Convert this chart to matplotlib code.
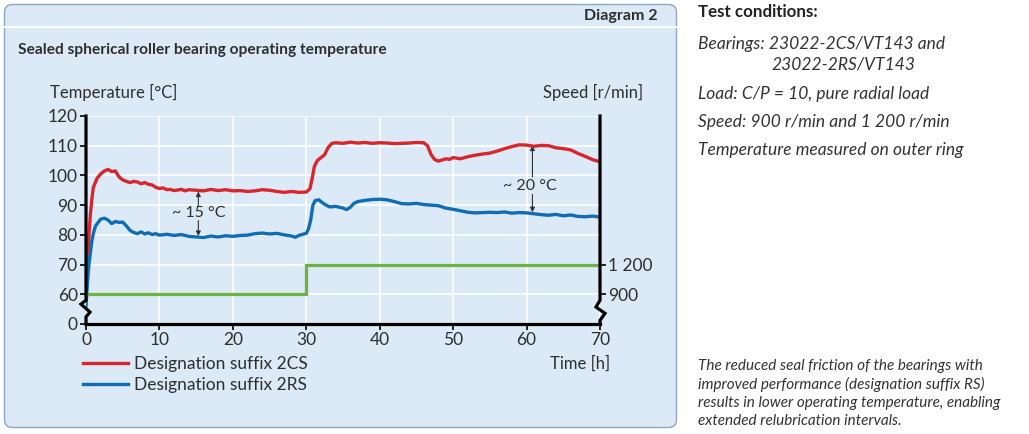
import matplotlib
matplotlib.use("Agg")
import matplotlib.pyplot as plt
import matplotlib.transforms as mtransforms
from matplotlib.patches import FancyBboxPatch
from matplotlib.lines import Line2D

# ---- data ----
time_2cs = [0, 0.2, 0.4, 0.6, 0.8, 1.0, 1.5, 2.0, 2.5, 3.0, 3.5, 4.0, 4.5, 5.0, 5.5,
            6.0, 6.5, 7.0, 7.5, 8.0, 8.5, 9.0, 9.5, 10, 10.5, 11, 11.5, 12, 12.5, 13,
            13.5, 14, 15, 16, 17, 18, 19, 20, 21, 22, 23, 24, 25, 26, 27, 28, 29, 30,
            30.5, 30.8, 31.1, 31.5, 32, 32.5, 33, 33.5, 34, 35, 36, 37, 38, 39, 40, 41,
            42, 43, 44, 45, 46, 46.5, 47, 47.5, 48, 48.5, 49, 49.5, 50, 51, 52, 53, 54,
            55, 56, 57, 58, 59, 60, 61, 62, 63, 64, 65, 66, 67, 68, 69, 70]
temp_2cs = [60, 68, 80, 87, 92, 96, 99, 100.5, 101.5, 102, 101.3, 101.5, 99.5, 98.5, 98,
            97.6, 98, 97.8, 97.2, 97.6, 97, 96.8, 96, 95.6, 95.8, 95.2, 95.3, 94.9, 95.1, 95.3,
            94.8, 95.2, 95.0, 94.8, 95.3, 94.9, 95.2, 94.8, 94.9, 94.6, 94.8, 95.2, 95.0, 94.6, 94.3, 94.6, 94.3, 94.4,
            95.5, 99, 103, 105, 106, 107, 109.5, 110.8, 111, 110.8, 111.2, 110.9, 111.1, 110.8, 111, 110.9,
            110.7, 110.8, 110.9, 111.1, 111, 110, 107, 105.3, 104.8, 105.2, 105.6, 105.4, 106, 105.6, 106.3, 106.8, 107.2,
            107.5, 108.2, 109, 109.7, 110.3, 110.2, 109.8, 110.1, 110, 109.3, 109, 108.6, 107.4, 106.4, 105.3, 104.6]

time_2rs = [0, 0.2, 0.4, 0.6, 0.8, 1.0, 1.3, 1.6, 2.0, 2.5, 3.0, 3.5, 4.0, 4.5, 5.0, 5.5,
            6.0, 6.5, 7, 7.5, 8, 8.5, 9, 9.5, 10, 11, 12, 13, 14, 15, 16, 17, 18, 19, 20,
            21, 22, 23, 24, 25, 26, 27, 28, 28.5, 29, 29.5, 30, 30.3, 30.6, 30.9, 31.2, 31.7,
            32.2, 32.7, 33.2, 34, 35, 35.5, 36, 36.5, 37, 38, 39, 40, 41, 42, 43, 44, 45, 46,
            47, 48, 49, 50, 51, 52, 53, 54, 55, 56, 57, 58, 59, 60, 61, 62, 63, 64, 65, 66,
            67, 68, 69, 70]
temp_2rs = [56, 64, 70, 74, 78, 80.5, 83, 84, 85.3, 85.6, 85, 83.8, 84.5, 84.2, 84.3, 83,
            81.5, 80.8, 80.4, 81, 80.3, 80.7, 80.1, 80.4, 79.9, 80.2, 79.8, 80.1, 79.5, 79.3, 79.1, 79.6, 79.3, 79.7, 79.5,
            79.8, 79.9, 80.4, 80.6, 80.3, 80.5, 80, 79.6, 79.2, 79.8, 80.2, 80.5, 82, 85, 90, 91.5, 91.8,
            90.8, 90, 89.4, 89.6, 89, 88.5, 89.3, 90.6, 91.2, 91.6, 91.9, 92, 91.8, 91.2, 90.5, 90.4, 90.6, 90.2,
            90, 89.8, 89, 88.6, 88.1, 87.6, 87.4, 87.5, 87.6, 87.5, 87.7, 87.3, 87.5, 87.4, 87.1, 86.8, 86.6, 86.9, 86.4, 86.7,
            86.2, 86.1, 86.3, 86]

speed_time = [0, 30, 30, 70]
speed_rpm = [900, 900, 1200, 1200]

temp_ticks = [50, 60, 70, 80, 90, 100, 110, 120]
temp_labels = ["0", "60", "70", "80", "90", "100", "110", "120"]
speed_ticks = [900, 1200]
speed_labels = ["900", "1 200"]
time_ticks = [0, 10, 20, 30, 40, 50, 60, 70]

RED = "#d7262e"
BLUE = "#0e6db5"
GREEN = "#6db33f"
PANEL = "#dbeaf6"
TXT = "#2e2e2e"
CF = ["Lato", "DejaVu Sans"]
RF = ["Lato", "DejaVu Sans"]

W, H = 1029, 434
fig = plt.figure(figsize=(W / 100, H / 100), dpi=100)
fig.patch.set_facecolor("white")
inch = fig.dpi_scale_trans


def px(x, y):
    return x / W, 1 - y / H


# panel
panel = FancyBboxPatch((0.045, 0.065), 6.72, 4.23, boxstyle="round,pad=0,rounding_size=0.08",
                       transform=inch, facecolor=PANEL, edgecolor="#8ea8c3", lw=1.0, zorder=-1)
fig.patches.append(panel)
fig.lines.append(Line2D([0.05, 6.76], [(H - 27) / 100] * 2, transform=inch, color="white", lw=1.5))

fig.text(*px(658, 16), "Diagram 2", ha="right", va="center", fontsize=11.5, fontweight="bold",
         color=TXT, family=CF)
fig.text(*px(18, 50), "Sealed spherical roller bearing operating temperature", ha="left", va="center",
         fontsize=11.2, fontweight="bold", color=TXT, family=CF)
fig.text(*px(50, 92), "Temperature [°C]", ha="left", va="center", fontsize=12, color=TXT, family=CF)
fig.text(*px(643, 92), "Speed [r/min]", ha="right", va="center", fontsize=12, color=TXT, family=CF)
fig.text(*px(610, 364), "Time [h]", ha="right", va="center", fontsize=12, color=TXT, family=CF)

# axes
ax = fig.add_axes([86 / W, 110 / H, 514 / W, 208 / H])
ax.set_facecolor(PANEL)
ax.set_xlim(0, 70)
ax.set_ylim(50, 120)
ax.set_xticks(time_ticks)
ax.set_yticks(temp_ticks)
ax.set_yticklabels(temp_labels)
ax.grid(True, color="white", lw=1.1)
ax.set_axisbelow(True)
for s in ["top", "right", "left"]:
    ax.spines[s].set_visible(False)
ax.spines["bottom"].set_linewidth(2.3)
ax.tick_params(direction="out", length=4, width=1.2, colors="black", labelcolor=TXT,
               labelsize=12.5, pad=2)
for lab in ax.get_xticklabels() + ax.get_yticklabels():
    lab.set_family(CF)

l1, = ax.plot(time_2cs, temp_2cs, color=RED, lw=2.4, label="Designation suffix 2CS", zorder=4)
l2, = ax.plot(time_2rs, temp_2rs, color=BLUE, lw=2.4, label="Designation suffix 2RS", zorder=4)

ax2 = ax.twinx()
ax2.set_ylim(600, 2700)
ax2.set_yticks(speed_ticks)
ax2.set_yticklabels(speed_labels)
for s in ["top", "left", "bottom", "right"]:
    ax2.spines[s].set_visible(False)
ax2.tick_params(direction="out", length=4, width=1.2, colors="black", labelcolor=TXT,
                labelsize=12.5, pad=2)
for lab in ax2.get_yticklabels():
    lab.set_family(CF)
ax2.patch.set_visible(False)
ax2.plot(speed_time, speed_rpm, color=GREEN, lw=2.3, solid_joinstyle="miter", zorder=3)

# axis lines with break marks
bt = mtransforms.blended_transform_factory(ax2.transAxes, ax.transData)
d = 1 / 514
ax2.plot([0, 0, -5 * d, 4 * d, 0, 0], [120, 58, 56.7, 54, 52.4, 50], transform=bt,
         color="black", lw=2.3, clip_on=False, zorder=6, solid_joinstyle="miter")
ax2.plot([1, 1, 1 - 4 * d, 1 + 5 * d, 1, 1], [120, 58, 55.7, 53.6, 51.2, 50], transform=bt,
         color="black", lw=2.3, clip_on=False, zorder=6, solid_joinstyle="miter")

# annotations
arr = dict(arrowstyle="-|>", lw=0.8, color="#333333", mutation_scale=7, shrinkA=0, shrinkB=0)
ax.annotate("", xy=(15.3, 94.6), xytext=(15.3, 89.5), arrowprops=arr)
ax.annotate("", xy=(15.3, 79.6), xytext=(15.3, 84.8), arrowprops=arr)
ax.text(15.4, 87.3, "~ 15 °C", ha="center", va="center", fontsize=11.5, color=TXT, family=CF)
ax.annotate("", xy=(60.8, 110.1), xytext=(60.8, 99.5), arrowprops=arr)
ax.annotate("", xy=(60.8, 87.6), xytext=(60.8, 93.6), arrowprops=arr)
ax.text(60.5, 96.5, "~ 20 °C", ha="center", va="center", fontsize=11.5, color=TXT, family=CF)

leg = ax2.legend(handles=[l1, l2], loc="upper left", bbox_to_anchor=px(83, 356),
                 bbox_transform=fig.transFigure, frameon=False, borderpad=0, borderaxespad=0,
                 handlelength=2.6, handletextpad=0.35, labelspacing=0.3,
                 prop={"family": CF, "size": 12.5})
for t in leg.get_texts():
    t.set_color(TXT)

# right-hand text
fig.text(*px(698, 12), "Test conditions:", ha="left", va="center", fontsize=12.2,
         fontweight="bold", color="#222222", family=RF)
side = [(698, 44, "Bearings: 23022-2CS/VT143 and"),
        (771, 64, "23022-2RS/VT143"),
        (698, 94, "Load: C/P = 10, pure radial load"),
        (698, 122, "Speed: 900 r/min and 1 200 r/min"),
        (698, 150, "Temperature measured on outer ring")]
for x, y, s in side:
    fig.text(*px(x, y), s, ha="left", va="center", fontsize=12.5, style="italic",
             color="#333333", family=RF)
note = ["The reduced seal friction of the bearings with",
        "improved performance (designation suffix RS)",
        "results in lower operating temperature, enabling",
        "extended relubrication intervals."]
for i, s in enumerate(note):
    fig.text(*px(698, 366 + 18.3 * i), s, ha="left", va="center", fontsize=11, style="italic",
             color="#333333", family=RF)

fig.savefig("out.png", dpi=100, facecolor="white")
